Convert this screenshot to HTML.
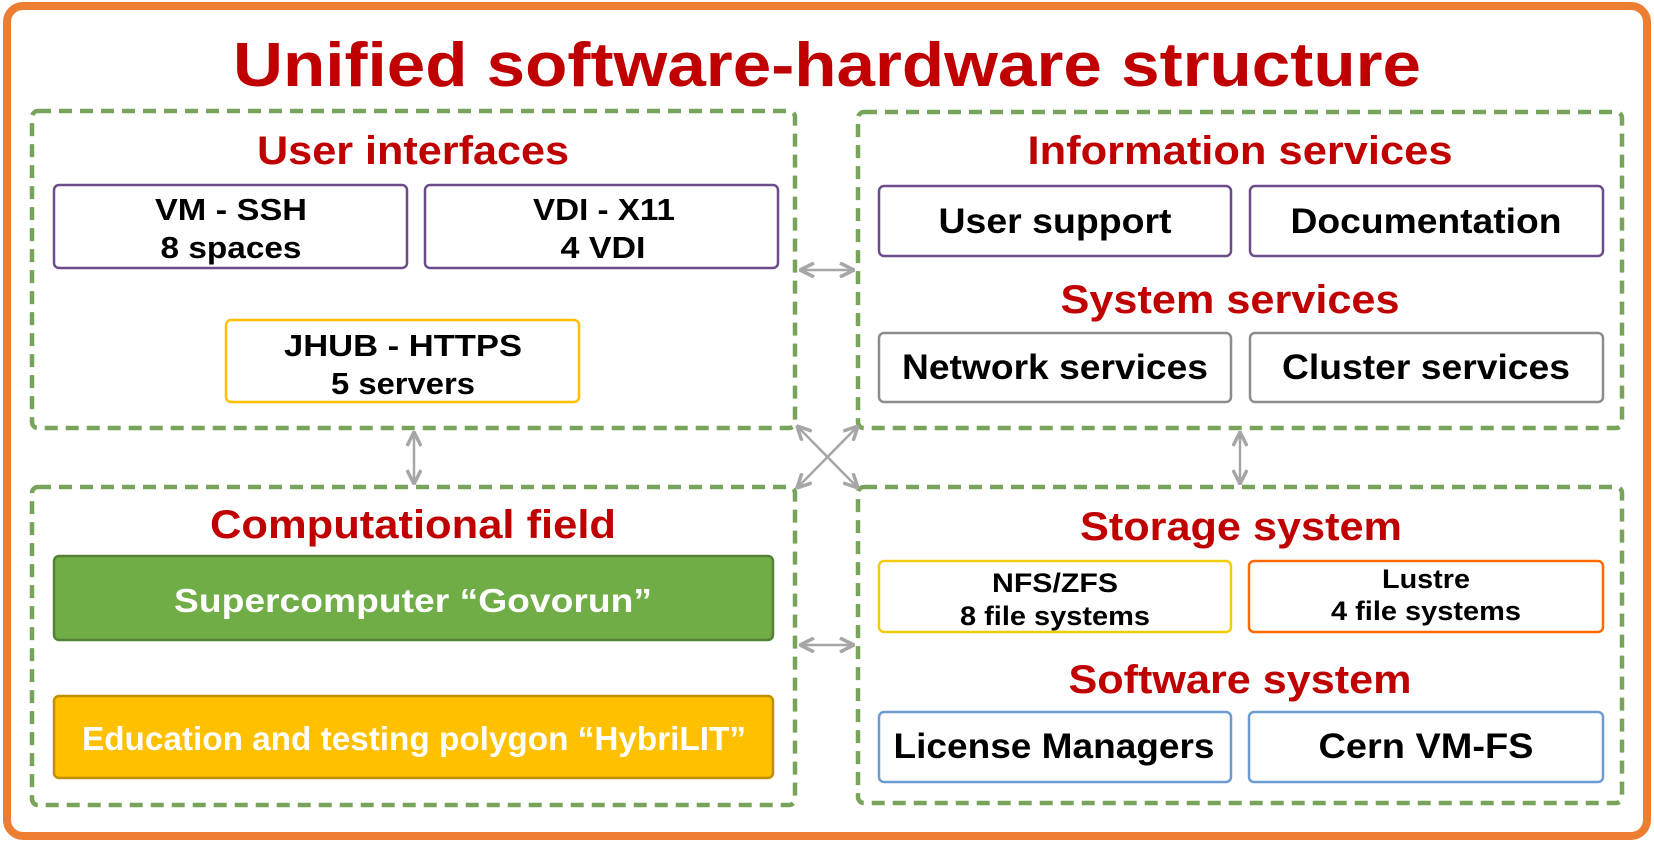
<!DOCTYPE html>
<html><head><meta charset="utf-8"><style>
html,body{margin:0;padding:0;background:#fff;}
svg{display:block;}
text{font-family:"Liberation Sans",Arial,sans-serif;font-weight:bold;text-anchor:middle;}
.t{fill:#c00000;}
.b{fill:#000;}
.w{fill:#fff;}
.d{fill:none;stroke:#78a35a;stroke-width:4.5;stroke-dasharray:13 8;}
.a{stroke:#a6a6a6;stroke-width:2.5;fill:none;}
</style></head><body>
<svg width="1654" height="843" viewBox="0 0 1654 843" xmlns="http://www.w3.org/2000/svg">
<defs>
<marker id="ah" viewBox="0 0 16 16" refX="15" refY="8" markerWidth="16" markerHeight="16" markerUnits="userSpaceOnUse" orient="auto-start-reverse">
<path d="M1,1 L15,8 L1,15" fill="none" stroke="#a6a6a6" stroke-width="3.5"/>
</marker>
</defs>
<rect x="7" y="6" width="1640" height="830" rx="16" fill="#fff" stroke="#ed7d31" stroke-width="8"/>
<text class="t" x="827" y="86" font-size="62" textLength="1188" lengthAdjust="spacingAndGlyphs">Unified software-hardware structure</text>

<rect class="d" x="32" y="111" width="763" height="317" rx="6"/>
<rect class="d" x="32" y="487" width="763" height="318" rx="6"/>
<rect class="d" x="858" y="112" width="764" height="316" rx="6"/>
<rect class="d" x="858" y="487" width="764" height="316" rx="6"/>

<line class="a" x1="800" y1="270" x2="854" y2="270" marker-start="url(#ah)" marker-end="url(#ah)"/>
<line class="a" x1="800" y1="645" x2="854" y2="645" marker-start="url(#ah)" marker-end="url(#ah)"/>
<line class="a" x1="414" y1="432" x2="414" y2="484" marker-start="url(#ah)" marker-end="url(#ah)"/>
<line class="a" x1="1240" y1="432" x2="1240" y2="484" marker-start="url(#ah)" marker-end="url(#ah)"/>
<line class="a" x1="797" y1="426" x2="858" y2="488" marker-start="url(#ah)" marker-end="url(#ah)"/>
<line class="a" x1="858" y1="426" x2="797" y2="488" marker-start="url(#ah)" marker-end="url(#ah)"/>

<text class="t" x="413" y="164" font-size="40" textLength="312" lengthAdjust="spacingAndGlyphs">User interfaces</text>
<rect x="54" y="185" width="353" height="83" rx="5" fill="#fff" stroke="#6b4c8a" stroke-width="2.5"/>
<rect x="425" y="185" width="353" height="83" rx="5" fill="#fff" stroke="#6b4c8a" stroke-width="2.5"/>
<rect x="226" y="320" width="353" height="82" rx="5" fill="#fff" stroke="#ffc000" stroke-width="2.5"/>
<text class="b" x="231" y="220" font-size="31" textLength="152" lengthAdjust="spacingAndGlyphs">VM - SSH</text>
<text class="b" x="231" y="258" font-size="31" textLength="141" lengthAdjust="spacingAndGlyphs">8 spaces</text>
<text class="b" x="604" y="220" font-size="31" textLength="142" lengthAdjust="spacingAndGlyphs">VDI - X11</text>
<text class="b" x="603" y="258" font-size="31" textLength="85" lengthAdjust="spacingAndGlyphs">4 VDI</text>
<text class="b" x="403" y="356" font-size="31" textLength="238" lengthAdjust="spacingAndGlyphs">JHUB - HTTPS</text>
<text class="b" x="403" y="394" font-size="31" textLength="144" lengthAdjust="spacingAndGlyphs">5 servers</text>

<text class="t" x="413" y="538" font-size="40" textLength="406" lengthAdjust="spacingAndGlyphs">Computational field</text>
<rect x="54" y="556" width="719" height="84" rx="5" fill="#70ad47" stroke="#548235" stroke-width="2.5"/>
<rect x="54" y="696" width="719" height="82" rx="5" fill="#ffc000" stroke="#bf9000" stroke-width="2.5"/>
<text class="w" x="413" y="612" font-size="33" textLength="478" lengthAdjust="spacingAndGlyphs">Supercomputer “Govorun”</text>
<text class="w" x="414" y="750" font-size="33" textLength="664" lengthAdjust="spacingAndGlyphs">Education and testing polygon “HybriLIT”</text>

<text class="t" x="1240" y="164" font-size="40" textLength="425" lengthAdjust="spacingAndGlyphs">Information services</text>
<rect x="879" y="186" width="352" height="70" rx="5" fill="#fff" stroke="#6b4c8a" stroke-width="2.5"/>
<rect x="1250" y="186" width="353" height="70" rx="5" fill="#fff" stroke="#6b4c8a" stroke-width="2.5"/>
<text class="b" x="1055" y="233" font-size="35" textLength="233" lengthAdjust="spacingAndGlyphs">User support</text>
<text class="b" x="1426" y="233" font-size="35" textLength="271" lengthAdjust="spacingAndGlyphs">Documentation</text>
<text class="t" x="1230" y="313" font-size="40" textLength="339" lengthAdjust="spacingAndGlyphs">System services</text>
<rect x="879" y="333" width="352" height="69" rx="5" fill="#fff" stroke="#8c8c8c" stroke-width="2.5"/>
<rect x="1250" y="333" width="353" height="69" rx="5" fill="#fff" stroke="#8c8c8c" stroke-width="2.5"/>
<text class="b" x="1055" y="379" font-size="35" textLength="306" lengthAdjust="spacingAndGlyphs">Network services</text>
<text class="b" x="1426" y="379" font-size="35" textLength="288" lengthAdjust="spacingAndGlyphs">Cluster services</text>

<text class="t" x="1241" y="540" font-size="40" textLength="322" lengthAdjust="spacingAndGlyphs">Storage system</text>
<rect x="879" y="561" width="352" height="71" rx="5" fill="#fff" stroke="#f2cc0c" stroke-width="2.5"/>
<rect x="1249" y="561" width="354" height="71" rx="5" fill="#fff" stroke="#ff6a00" stroke-width="2.5"/>
<text class="b" x="1055" y="592" font-size="27" textLength="126" lengthAdjust="spacingAndGlyphs">NFS/ZFS</text>
<text class="b" x="1055" y="625" font-size="27" textLength="190" lengthAdjust="spacingAndGlyphs">8 file systems</text>
<text class="b" x="1426" y="588" font-size="27" textLength="88" lengthAdjust="spacingAndGlyphs">Lustre</text>
<text class="b" x="1426" y="620" font-size="27" textLength="190" lengthAdjust="spacingAndGlyphs">4 file systems</text>
<text class="t" x="1240" y="693" font-size="40" textLength="343" lengthAdjust="spacingAndGlyphs">Software system</text>
<rect x="879" y="712" width="352" height="70" rx="5" fill="#fff" stroke="#6c9bd2" stroke-width="2.5"/>
<rect x="1249" y="712" width="354" height="70" rx="5" fill="#fff" stroke="#6c9bd2" stroke-width="2.5"/>
<text class="b" x="1054" y="758" font-size="35" textLength="321" lengthAdjust="spacingAndGlyphs">License Managers</text>
<text class="b" x="1426" y="758" font-size="35" textLength="215" lengthAdjust="spacingAndGlyphs">Cern VM-FS</text>
</svg>
</body></html>
